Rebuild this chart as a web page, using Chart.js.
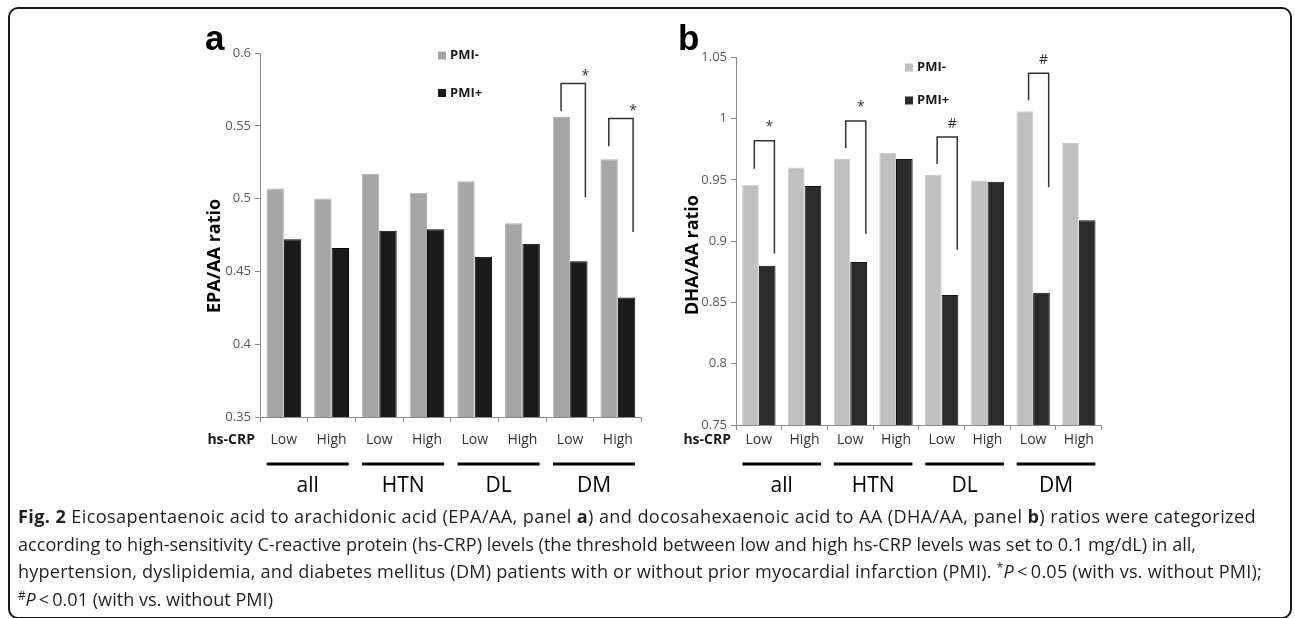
<!DOCTYPE html>
<html>
<head>
<meta charset="utf-8">
<script src="https://cdn.jsdelivr.net/npm/chart.js@4.4.0/dist/chart.umd.min.js"></script>
<style>
body { margin: 0; background: #fff; width: 1295px; height: 618px; overflow: hidden; position: relative; font-family: "Open Sans", sans-serif; }
#frame { position: absolute; left: 8px; top: 7px; width: 1280px; height: 608px; border: 2px solid #1a1a1a; border-radius: 10px; }
#cA { position: absolute; left: 0; top: 0; }
#cB { position: absolute; left: 650px; top: 0; }
#caption { position: absolute; left: 18px; top: 503px; font-size: 17px; line-height: 27.7px; color: #231f20; white-space: nowrap; }
#caption .ln { display: block; }
#caption .ln span.w { display: inline-block; }
#caption sup { font-size: 0.65em; line-height: 0; vertical-align: 0.55em; }
</style>
</head>
<body>
<div id="frame"></div>
<canvas id="cA" width="660" height="505"></canvas>
<canvas id="cB" width="645" height="505"></canvas>
<div id="caption">
  <div class="ln"><span class="w"><b>Fig. 2</b> Eicosapentaenoic acid to arachidonic acid (EPA/AA, panel <b>a</b>) and docosahexaenoic acid to AA (DHA/AA, panel <b>b</b>) ratios were categorized</span></div>
  <div class="ln"><span class="w">according to high-sensitivity C-reactive protein (hs-CRP) levels (the threshold between low and high hs-CRP levels was set to 0.1 mg/dL) in all,</span></div>
  <div class="ln"><span class="w">hypertension, dyslipidemia, and diabetes mellitus (DM) patients with or without prior myocardial infarction (PMI). <sup>*</sup><i>P</i>&#8201;&lt;&#8201;0.05 (with vs. without PMI);</span></div>
  <div class="ln"><span class="w"><sup>#</sup><i>P</i>&#8201;&lt;&#8201;0.01 (with vs. without PMI)</span></div>
</div>
<script>
// categories
var hsCrpLevels = ['Low', 'High', 'Low', 'High', 'Low', 'High', 'Low', 'High'];
var patientGroups = ['all', 'HTN', 'DL', 'DM'];

// panel a: EPA/AA ratio
var epaPmiNeg = [0.507, 0.500, 0.517, 0.504, 0.512, 0.483, 0.556, 0.527];
var epaPmiPos = [0.472, 0.466, 0.478, 0.479, 0.460, 0.469, 0.457, 0.432];
var epaTicks = [0.35, 0.4, 0.45, 0.5, 0.55, 0.6];

// panel b: DHA/AA ratio
var dhaPmiNeg = [0.946, 0.960, 0.967, 0.972, 0.954, 0.9495, 1.006, 0.980];
var dhaPmiPos = [0.880, 0.945, 0.883, 0.967, 0.856, 0.9485, 0.858, 0.917];
var dhaTicks = [0.75, 0.8, 0.85, 0.9, 0.95, 1, 1.05];

// significance brackets (category, bracket top, left leg end, right leg end, mark)
var epaSigCat = [6, 7];
var epaSigTop = [0.579, 0.555];
var epaSigLeft = [0.560, 0.536];
var epaSigRight = [0.501, 0.477];
var epaSigMark = ['*', '*'];

var dhaSigCat = [0, 2, 4, 6];
var dhaSigTop = [0.982, 0.998, 0.985, 1.037];
var dhaSigLeft = [0.959, 0.976, 0.963, 1.015];
var dhaSigRight = [0.890, 0.906, 0.893, 0.944];
var dhaSigMark = ['*', '*', '#', '#'];

var extrasPlugin = {
    id: 'figExtras',
    afterDraw: function(chart, args, o) {
        var ctx = chart.ctx;
        var xs = chart.scales.x, ys = chart.scales.y;
        var cw = xs.getPixelForValue(1) - xs.getPixelForValue(0);
        ctx.save();

        // panel letter
        ctx.fillStyle = '#000';
        ctx.font = 'bold 35px "Liberation Sans", Arial, sans-serif';
        ctx.textAlign = 'left';
        ctx.textBaseline = 'alphabetic';
        ctx.fillText(o.letter, o.letterX, 50);

        // legend
        ctx.font = 'bold 13px "Open Sans", sans-serif';
        ctx.textBaseline = 'middle';
        chart.data.datasets.forEach(function(ds, i) {
            ctx.fillStyle = ds.backgroundColor;
            ctx.fillRect(o.legendX, o.legendY[i] - 4, 8, 8);
            ctx.fillStyle = '#1a1a1a';
            ctx.fillText(ds.label, o.legendX + 12, o.legendY[i]);
        });

        // y axis title
        ctx.save();
        ctx.translate(o.titleX, o.titleY);
        ctx.rotate(-Math.PI / 2);
        ctx.font = 'bold 18px "Open Sans", sans-serif';
        ctx.textAlign = 'center';
        ctx.fillStyle = '#000';
        ctx.fillText(o.title, 0, 0);
        ctx.restore();

        // hs-CRP row label
        ctx.font = 'bold 14px "Open Sans", sans-serif';
        ctx.textAlign = 'right';
        ctx.fillStyle = '#1a1a1a';
        ctx.fillText('hs-CRP', xs.left - 5, 440);

        // group underlines and labels
        ctx.font = '21px "Open Sans", sans-serif';
        ctx.textAlign = 'center';
        ctx.fillStyle = '#000';
        ctx.strokeStyle = '#000';
        ctx.lineWidth = 3;
        patientGroups.forEach(function(g, i) {
            var c = (xs.getPixelForValue(2 * i) + xs.getPixelForValue(2 * i + 1)) / 2;
            var h = cw * 0.86;
            ctx.beginPath();
            ctx.moveTo(c - h, 464);
            ctx.lineTo(c + h, 464);
            ctx.stroke();
            ctx.fillText(g, c, 486);
        });

        // significance brackets
        ctx.strokeStyle = '#333';
        ctx.lineWidth = 1.5;
        ctx.font = '14px "Open Sans", sans-serif';
        ctx.textBaseline = 'alphabetic';
        ctx.fillStyle = '#333';
        o.sigCat.forEach(function(cat, i) {
            var cx = xs.getPixelForValue(cat);
            var lx = cx + o.legL * cw, rx = cx + o.legR * cw;
            var yt = ys.getPixelForValue(o.sigTop[i]);
            ctx.beginPath();
            ctx.moveTo(lx, ys.getPixelForValue(o.sigLeft[i]));
            ctx.lineTo(lx, yt);
            ctx.lineTo(rx, yt);
            ctx.lineTo(rx, ys.getPixelForValue(o.sigRight[i]));
            ctx.stroke();
            var m = o.sigMark[i];
            var sx = lx + o.markAt * (rx - lx);
            ctx.fillText(m, sx, yt - (m === '*' ? o.starGap : o.hashGap));
        });
        ctx.restore();
    }
};

function makePanel(id, neg, pos, tickVals, colors, lay, extras) {
    var ymin = tickVals[0], ymax = tickVals[tickVals.length - 1];
    return new Chart(document.getElementById(id), {
        type: 'bar',
        data: {
            labels: hsCrpLevels,
            datasets: [
                { label: 'PMI-', data: neg, backgroundColor: colors[0], borderColor: colors[1], borderWidth: 1 },
                { label: 'PMI+', data: pos, backgroundColor: colors[2], borderColor: colors[3], borderWidth: 1 }
            ]
        },
        options: {
            responsive: false,
            animation: false,
            events: [],
            layout: { padding: { left: 0, top: lay.top, right: lay.right, bottom: 0 } },
            datasets: { bar: { categoryPercentage: 0.73, barPercentage: 1 } },
            plugins: { legend: { display: false }, tooltip: { enabled: false }, figExtras: extras },
            scales: {
                x: {
                    grid: { drawOnChartArea: false, tickLength: 5, color: '#8c8c8c' },
                    border: { color: '#8c8c8c' },
                    ticks: { font: { family: 'Open Sans', size: 14 }, color: '#333', padding: lay.xPad, maxRotation: 0, autoSkip: false },
                    afterFit: function(s) { s.height = lay.xHeight; }
                },
                y: {
                    min: ymin, max: ymax,
                    grid: { drawOnChartArea: false, tickLength: 5, color: '#8c8c8c' },
                    border: { color: '#8c8c8c' },
                    ticks: {
                        font: { family: 'Open Sans', size: 13 }, color: '#595959', padding: 4,
                        callback: function(v) { return String(+(+v).toFixed(2)); }
                    },
                    afterBuildTicks: function(s) { s.ticks = tickVals.map(function(v) { return { value: v }; }); },
                    afterFit: function(s) { s.width = lay.yWidth; }
                }
            }
        },
        plugins: [extrasPlugin]
    });
}

makePanel('cA', epaPmiNeg, epaPmiPos, epaTicks,
    ['#a5a5a5', '#b4b4b4', '#1a1a1a', '#000000'],
    { top: 53, right: 18.3, xHeight: 88, yWidth: 260, xPad: 10 },
    { letter: 'a', letterX: 205, legendX: 438, legendY: [55.5, 93], title: 'EPA/AA ratio', titleX: 215, titleY: 256,
      sigCat: epaSigCat, sigTop: epaSigTop, sigLeft: epaSigLeft, sigRight: epaSigRight, sigMark: epaSigMark,
      legL: -0.19, legR: 0.32, markAt: 1, starGap: 4, hashGap: 7 });

makePanel('cB', dhaPmiNeg, dhaPmiPos, dhaTicks,
    ['#bfbfbf', '#cccccc', '#2b2b2b', '#111111'],
    { top: 57.3, right: 193.3, xHeight: 80, yWidth: 86, xPad: 2 },
    { letter: 'b', letterX: 28, legendX: 255, legendY: [67.5, 100.5], title: 'DHA/AA ratio', titleX: 43, titleY: 255,
      sigCat: dhaSigCat, sigTop: dhaSigTop, sigLeft: dhaSigLeft, sigRight: dhaSigRight, sigMark: dhaSigMark,
      legL: -0.10, legR: 0.34, markAt: 0.75, starGap: 10, hashGap: 9 });

// fit caption lines to the reference line ends
var lineEnds = [1256, 1196, 1262];
var spans = document.querySelectorAll('#caption span.w');
var cap = document.getElementById('caption');
var w2 = spans[1].getBoundingClientRect().width;
cap.style.fontSize = (17 * (lineEnds[1] - 18) / w2).toFixed(2) + 'px';
lineEnds.forEach(function(end, i) {
    var s = spans[i];
    var n = s.textContent.length;
    var w = s.getBoundingClientRect().width;
    s.style.letterSpacing = ((end - 18 - w) / n).toFixed(3) + 'px';
});
</script>
</body>
</html>
